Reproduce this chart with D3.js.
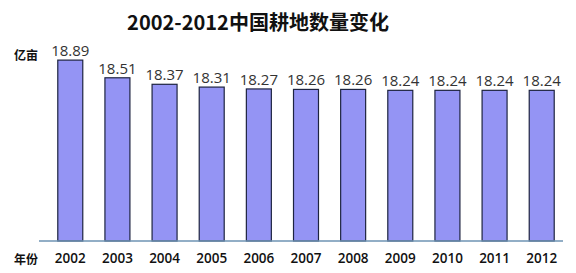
<!DOCTYPE html>
<html>
<head>
<meta charset="utf-8">
<script src="https://cdn.jsdelivr.net/npm/d3@7"></script>
<style>
  body { margin: 0; background: #fff; }
  svg { display: block; }
</style>
</head>
<body>
<svg width="576" height="273"></svg>
<script>
// data
const years = ["2002", "2003", "2004", "2005", "2006", "2007", "2008", "2009", "2010", "2011", "2012"];
const area = [18.89, 18.51, 18.37, 18.31, 18.27, 18.26, 18.26, 18.24, 18.24, 18.24, 18.24];
const title = "2002-2012中国耕地数量变化";
const yUnit = "亿亩";
const xUnit = "年份";

const svg = d3.select("svg");
const font = "'Noto Sans CJK SC', 'DejaVu Sans', sans-serif";

const x = d3.scaleBand().domain(years).range([46, 566]).paddingInner(0.47).paddingOuter(0.25);
const y = d3.scaleLinear().domain([15, 19]).range([241, 55]);

// title
svg.append("text")
  .attr("x", 258).attr("y", 30)
  .attr("text-anchor", "middle")
  .attr("font-family", font).attr("font-weight", "bold").attr("font-size", 20)
  .attr("fill", "#111")
  .text(title);

// bars
svg.selectAll(".bar").data(years).enter().append("rect")
  .attr("x", d => x(d))
  .attr("y", (d, i) => y(area[i]))
  .attr("width", x.bandwidth())
  .attr("height", (d, i) => y(15) - y(area[i]))
  .attr("fill", "#9494f4")
  .attr("stroke", "#1e2440")
  .attr("stroke-width", 1.2);

// value labels
svg.selectAll(".val").data(years).enter().append("text")
  .attr("x", d => x(d) + x.bandwidth() / 2)
  .attr("y", (d, i) => y(area[i]) - 4)
  .attr("text-anchor", "middle")
  .attr("font-family", "'Open Sans', 'DejaVu Sans', sans-serif")
  .attr("font-size", 15)
  .attr("fill", "#333")
  .text((d, i) => area[i].toFixed(2));

// x axis
const xAxis = svg.append("g").attr("transform", "translate(0,241)")
  .call(d3.axisBottom(x).tickSize(0).tickPadding(12));
xAxis.select(".domain").attr("d", "M39,0H563").attr("stroke", "#6e93b3").attr("stroke-width", 1.5);
xAxis.selectAll("text")
  .attr("font-family", "'Open Sans', 'DejaVu Sans', sans-serif")
  .attr("font-size", 13.5).attr("font-weight", 600).attr("fill", "#111");

// unit labels
svg.append("text").attr("x", 38).attr("y", 60).attr("text-anchor", "end")
  .attr("font-family", font).attr("font-weight", "bold").attr("font-size", 12).attr("fill", "#111")
  .text(yUnit);
svg.append("text").attr("x", 38).attr("y", 264).attr("text-anchor", "end")
  .attr("font-family", font).attr("font-weight", "bold").attr("font-size", 12).attr("fill", "#111")
  .text(xUnit);
</script>
</body>
</html>
